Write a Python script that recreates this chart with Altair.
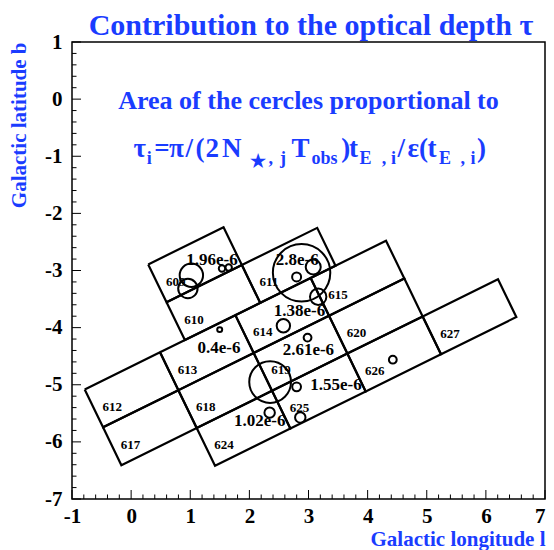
import altair as alt
import pandas as pd
import numpy as np

BLUE = "#1a3cff"
FONT = "Liberation Serif"

TITLE = "Contribution to the optical depth τ"
SUBTITLE = "Area of the cercles proportional to"

# ---- observation fields (centre of each rotated rectangle, in l/b) ----
field_id = [609, 610, 611, 612, 613, 614, 615, 617, 618, 619, 620, 624, 625, 626, 627]
field_l = [1.081, 1.391, 2.665, 0.007, 1.281, 2.555, 3.829, 0.317, 1.591, 2.865, 4.139, 1.901, 3.175, 4.449, 5.723]
field_b = [-2.899, -3.561, -2.910, -5.089, -4.438, -3.787, -3.136, -5.751, -5.100, -4.449, -3.798, -5.762, -5.111, -4.460, -3.809]
# field edge vectors (long side, short side) in degrees
LONG = (1.274, 0.651)
SHORT = (0.310, -0.662)

# ---- events: position and optical depth contribution (units of 1e-7) ----
event_l = [1.019, 0.960, 1.537, 1.650, 2.883, 2.799, 3.080, 3.164, 2.575, 1.498, 2.984, 4.426, 2.351, 2.799, 2.343, 2.861]
event_b = [-3.083, -3.316, -2.966, -2.948, -3.040, -3.113, -2.938, -3.460, -3.968, -4.035, -4.175, -4.561, -4.953, -5.037, -5.488, -5.572]
event_tau = [3.42, 2.35, 0.256, 0.256, 20.6, 0.506, 1.41, 1.68, 1.12, 0.156, 0.38, 0.38, 10.9, 0.48, 0.68, 0.68]

# ---- per-field tau labels ----
val_text = ["1.96e-6", "2.8e-6", "1.38e-6", "0.4e-6", "2.61e-6", "1.55e-6", "1.02e-6"]
val_l = [0.933, 2.445, 2.412, 1.123, 2.563, 3.029, 1.739]
val_b = [-2.904, -2.904, -3.797, -4.444, -4.479, -5.092, -5.722]

# ---- axes ----
major_x = list(range(-1, 8))
major_y = list(range(-7, 2))
minor_x = [round(v, 1) for v in np.arange(-1, 7.001, 0.2) if abs(v - round(v)) > 1e-6]
minor_y = [round(v, 1) for v in np.arange(-7, 1.001, 0.2) if abs(v - round(v)) > 1e-6]

W, H = 473, 457

# formula pieces: text, l, baseline b, font size
MB, SB, STB = -1.013, -1.136, -1.188
M, S = 27, 18
formula = [
    ("τ", 0.042, MB, M), ("i", 0.266, SB, S), ("=", 0.390, MB, M),
    ("π", 0.642, MB, M), ("/", 0.921, MB, M), ("(", 1.089, MB, M),
    ("2", 1.257, MB, M), ("N", 1.538, MB, M), ("★", 2.013, STB, 18),
    (",", 2.323, SB, S), ("j", 2.520, SB, S), ("T", 2.714, MB, M), ("obs", 3.050, SB, S),
    (")", 3.555, MB, M), ("t", 3.684, MB, M),
    ("E", 3.862, SB, S), (",", 4.239, SB, S), ("i", 4.395, SB, S),
    ("/", 4.507, MB, M), ("ε", 4.676, MB, M), ("(", 4.871, MB, M), ("t", 5.012, MB, M),
    ("E", 5.207, SB, S), (",", 5.571, SB, S), ("i", 5.739, SB, S),
    (")", 5.852, MB, M),
]

# ---- build tables ----
corners = [(-.5, -.5), (.5, -.5), (.5, .5), (-.5, .5), (-.5, -.5)]
poly_rows = []
for fid, cl, cb in zip(field_id, field_l, field_b):
    for k, (a, s) in enumerate(corners):
        poly_rows.append({"field": str(fid), "k": k,
                          "l": cl + a * LONG[0] + s * SHORT[0],
                          "b": cb + a * LONG[1] + s * SHORT[1]})
poly_df = pd.DataFrame(poly_rows)
flabel_df = pd.DataFrame({"txt": [str(f) for f in field_id],
                          "l": [l - 0.493 for l in field_l],
                          "b": [b - 0.297 for b in field_b]})
ev_df = pd.DataFrame({"l": event_l, "b": event_b, "tau": event_tau})
val_df = pd.DataFrame({"txt": val_text, "l": val_l, "b": val_b})
form_df = pd.DataFrame(formula, columns=["txt", "l", "b", "fs"])
sub_df = pd.DataFrame({"txt": [SUBTITLE], "l": [3.0], "b": [-0.173]})

xs = alt.Scale(domain=[-1, 7], nice=False, zero=False)
ys = alt.Scale(domain=[-7, 1], nice=False, zero=False)
xax = alt.Axis(values=major_x, labelExpr="'' + datum.value", title="Galactic longitude l",
               labelFont=FONT, labelFontWeight="bold", labelFontSize=21, labelColor="black",
               labelAlign={"condition": {"test": "datum.value == 7", "value": "right"}, "value": "center"},
               labelPadding=6, ticks=False, tickSize=0, domain=False, grid=False,
               labelFlush=False, labelOverlap=False,
               titleFont=FONT, titleFontWeight="bold", titleFontSize=21, titleColor=BLUE,
               titleAlign="right", titleAnchor="end", titleX=W, titleY=46,
               titleBaseline="alphabetic")
yax = alt.Axis(values=major_y, labelExpr="'' + datum.value", title="Galactic latitude b",
               labelFont=FONT, labelFontWeight="bold", labelFontSize=21, labelColor="black",
               labelPadding=10, ticks=False, tickSize=0, domain=False, grid=False,
               labelFlush=False, labelOverlap=False,
               titleFont=FONT, titleFontWeight="bold", titleFontSize=21, titleColor=BLUE,
               titleAngle=270, titleAlign="right", titleAnchor="end", titleX=-47, titleY=0,
               titleBaseline="alphabetic")


def X(f):
    return alt.X(f, type="quantitative", scale=xs, axis=xax)


def Y(f):
    return alt.Y(f, type="quantitative", scale=ys, axis=yax)


tx_major = alt.Chart(pd.DataFrame({"v": major_x})).mark_rule(color="black", strokeWidth=1).encode(
    x=X("v"), y=alt.value(H), y2=alt.value(H - 9))
tx_minor = alt.Chart(pd.DataFrame({"v": minor_x})).mark_rule(color="black", strokeWidth=1).encode(
    x=X("v"), y=alt.value(H), y2=alt.value(H - 4.5))
ty_major = alt.Chart(pd.DataFrame({"v": major_y})).mark_rule(color="black", strokeWidth=1).encode(
    y=Y("v"), x=alt.value(0), x2=alt.value(9))
ty_minor = alt.Chart(pd.DataFrame({"v": minor_y})).mark_rule(color="black", strokeWidth=1).encode(
    y=Y("v"), x=alt.value(0), x2=alt.value(4.5))

fields = alt.Chart(poly_df).mark_line(color="black", strokeWidth=2.2).encode(
    x=X("l"), y=Y("b"), detail="field:N", order="k:Q")

circles = alt.Chart(ev_df).mark_point(shape="circle", filled=False, color="black",
                                      strokeWidth=2, opacity=1).encode(
    x=X("l"), y=Y("b"),
    size=alt.Size("tau:Q", scale=alt.Scale(domain=[0, 25], range=[0, 4000]), legend=None))

flabels = alt.Chart(flabel_df).mark_text(font=FONT, fontWeight="bold", fontSize=13, color="black",
                                         align="left", baseline="middle").encode(
    x=X("l"), y=Y("b"), text="txt:N")

vlabels = alt.Chart(val_df).mark_text(font=FONT, fontWeight="bold", fontSize=17, color="black",
                                      align="left", baseline="alphabetic").encode(
    x=X("l"), y=Y("b"), text="txt:N")

subtitle = alt.Chart(sub_df).mark_text(font=FONT, fontWeight="bold", fontSize=26, color=BLUE,
                                       align="center", baseline="alphabetic").encode(
    x=X("l"), y=Y("b"), text="txt:N")

form = alt.Chart(form_df).mark_text(font=FONT, fontWeight="bold", color=BLUE,
                                    align="left", baseline="alphabetic").encode(
    x=X("l"), y=Y("b"), text="txt:N", size=alt.Size("fs:Q", scale=None))

title = alt.Chart(pd.DataFrame({"t": [TITLE]})).mark_text(
    font=FONT, fontWeight="bold", fontSize=30, color=BLUE, align="center",
    baseline="alphabetic").encode(x=alt.value(239), y=alt.value(-7), text="t:N")

chart = alt.layer(
    tx_major, tx_minor, ty_major, ty_minor, fields, circles, flabels, vlabels,
    subtitle, form, title
).properties(
    width=W, height=H,
    autosize=alt.AutoSizeParams(type="none"),
    padding={"left": 64, "top": 34, "right": 1, "bottom": 51},
    background="white",
).configure_view(stroke="black", strokeWidth=1.5)

chart.save("out.html", embed_options={"renderer": "svg", "actions": False})
